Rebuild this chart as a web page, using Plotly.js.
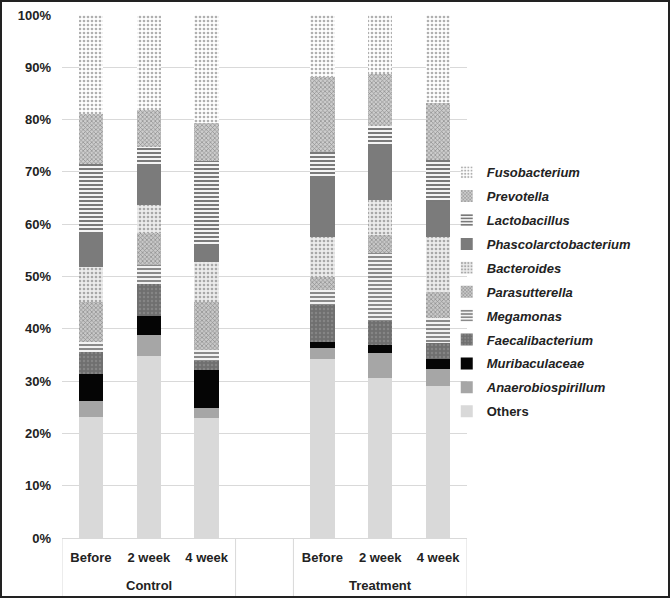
<!DOCTYPE html>
<html>
<head>
<meta charset="utf-8">
<script src="https://cdn.plot.ly/plotly-3.0.1.min.js"></script>
<style>
  html, body { margin: 0; padding: 0; background: #fff; }
  #chart { width: 670px; height: 598px; box-sizing: border-box; border: 2px solid #222; }
</style>
</head>
<body>
<div id="chart"></div>
<script>
// Categories
const groups = ["Control", "Treatment"];
const times = ["Before", "2 week", "4 week"];

// Series values (%), order: Control Before, 2 week, 4 week, Treatment Before, 2 week, 4 week
const others            = [23.2, 34.8, 22.9, 34.2, 30.5, 29.1];
const anaerobiospirillum= [3.0, 4.1, 2.0, 2.1, 4.8, 3.2];
const muribaculaceae    = [5.2, 3.5, 7.2, 1.2, 1.6, 1.9];
const faecalibacterium  = [4.2, 6.2, 1.8, 7.1, 4.5, 3.1];
const megamonas         = [1.9, 3.6, 2.0, 2.8, 13.0, 4.7];
const parasutterella    = [7.7, 6.1, 9.3, 2.6, 3.5, 5.1];
const bacteroides       = [6.7, 5.4, 7.6, 7.6, 6.7, 10.5];
const phascolarctobacterium = [6.7, 7.9, 3.2, 11.2, 10.4, 6.7];
const lactobacillus     = [12.9, 3.2, 16.0, 5.1, 3.8, 8.0];
const prevotella        = [9.5, 7.0, 7.3, 14.2, 9.9, 10.8];
const fusobacterium     = [19.0, 18.2, 20.7, 11.9, 11.3, 16.9];

const yTicks = [0, 10, 20, 30, 40, 50, 60, 70, 80, 90, 100];
const yTickLabels = yTicks.map(v => v + "%");

// Slot positions: three per group with one empty slot between groups
const xPos = [], xText = [];
groups.forEach((g, gi) => {
  times.forEach((t, ti) => { xPos.push(gi * 4 + ti); xText.push(t); });
});
const groupCenters = groups.map((g, gi) => gi * 4 + 1);
const dividers = [-0.5, 2.5, 3.5, 6.5];

const series = [
  {name: "Others", y: others, italic: false, color: "#d9d9d9", pattern: null},
  {name: "Anaerobiospirillum", y: anaerobiospirillum, italic: true, color: "#a6a6a6", pattern: null},
  {name: "Muribaculaceae", y: muribaculaceae, italic: true, color: "#050505", pattern: null},
  {name: "Faecalibacterium", y: faecalibacterium, italic: true, color: "#6f6f6f",
    pattern: {shape: ".", fgcolor: "#858585", bgcolor: "#6f6f6f", size: 4, solidity: 0.3}},
  {name: "Megamonas", y: megamonas, italic: true, color: "#9a9a9a",
    pattern: {shape: "-", fgcolor: "#8a8a8a", bgcolor: "#f2f2f2", size: 4, solidity: 0.5}},
  {name: "Parasutterella", y: parasutterella, italic: true, color: "#a0a0a0",
    pattern: {shape: "x", fgcolor: "#8a8a8a", bgcolor: "#c8c8c8", size: 3, solidity: 0.4}},
  {name: "Bacteroides", y: bacteroides, italic: true, color: "#cfcfcf",
    pattern: {shape: ".", fgcolor: "#a8a8a8", bgcolor: "#ececec", size: 4, solidity: 0.35}},
  {name: "Phascolarctobacterium", y: phascolarctobacterium, italic: true, color: "#7b7b7b", pattern: null},
  {name: "Lactobacillus", y: lactobacillus, italic: true, color: "#808080",
    pattern: {shape: "-", fgcolor: "#7a7a7a", bgcolor: "#f4f4f4", size: 4, solidity: 0.5}},
  {name: "Prevotella", y: prevotella, italic: true, color: "#a8a8a8",
    pattern: {shape: "x", fgcolor: "#8c8c8c", bgcolor: "#cdcdcd", size: 3, solidity: 0.4}},
  {name: "Fusobacterium", y: fusobacterium, italic: true, color: "#d0d0d0",
    pattern: {shape: ".", fgcolor: "#b0b0b0", bgcolor: "#ffffff", size: 4, solidity: 0.35}}
];

const traces = series.map((s, i) => {
  const marker = {color: s.color, line: {width: 0}};
  if (s.pattern) marker.pattern = s.pattern;
  return {
    type: "bar",
    name: s.italic ? "<i>" + s.name + "</i>" : s.name,
    x: xPos,
    y: s.y,
    width: 0.42,
    marker: marker,
    legendgroup: "g" + i,
    legendrank: 1000 - i,
    hoverinfo: "name+y"
  };
});

const labelFont = {family: "Liberation Sans, Arial, sans-serif", size: 13, color: "#222", weight: "bold"};

const annotations = groups.map((g, gi) => ({
  x: groupCenters[gi], xref: "x",
  y: -0.09, yref: "paper", yanchor: "middle",
  text: g, showarrow: false, font: labelFont
}));

const shapes = dividers.map(d => ({
  type: "line", xref: "x", yref: "paper",
  x0: d, x1: d, y0: 0, y1: -0.115,
  line: {color: "#d9d9d9", width: 1}
}));

const layout = {
  width: 666, height: 594,
  barmode: "stack",
  paper_bgcolor: "#ffffff",
  plot_bgcolor: "#ffffff",
  margin: {l: 60, r: 201, t: 13, b: 58},
  font: labelFont,
  xaxis: {
    range: [-0.5, 6.5],
    tickvals: xPos,
    ticktext: xText,
    showgrid: false,
    showline: false,
    zeroline: false,
    ticks: "",
    ticklabelstandoff: 10,
    tickfont: labelFont
  },
  yaxis: {
    range: [0, 100],
    tickvals: yTicks,
    ticktext: yTickLabels,
    showgrid: true,
    gridcolor: "#d9d9d9",
    gridwidth: 1,
    zeroline: true,
    zerolinecolor: "#d9d9d9",
    showline: false,
    ticks: "",
    ticklabelstandoff: 10,
    tickfont: labelFont
  },
  annotations: annotations,
  shapes: shapes,
  legend: {
    x: 0.95, xanchor: "left",
    y: 0.728, yanchor: "top",
    traceorder: "grouped",
    tracegroupgap: 4,
    bgcolor: "rgba(0,0,0,0)",
    font: labelFont,
    itemwidth: 30
  },
  showlegend: true
};

Plotly.newPlot("chart", traces, layout, {displayModeBar: false, staticPlot: true});
</script>
</body>
</html>
